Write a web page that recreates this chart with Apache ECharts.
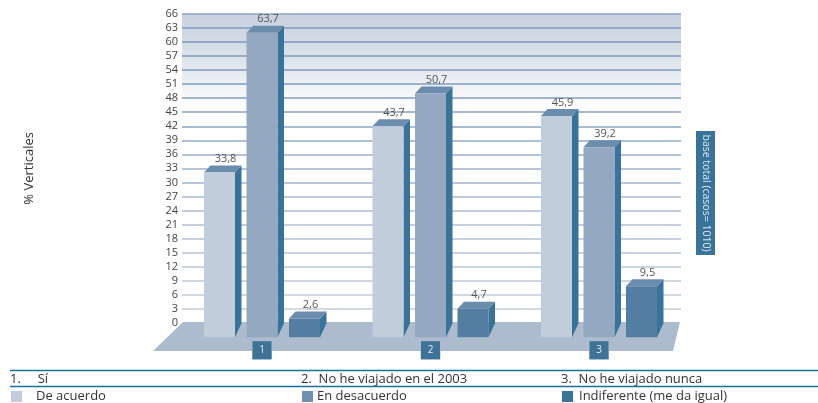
<!DOCTYPE html>
<html><head><meta charset="utf-8">
<style>html,body{margin:0;padding:0;background:#fff}#c{width:818px;height:403px}</style>
<script src="https://cdn.jsdelivr.net/npm/echarts@6/dist/echarts.min.js"></script>
</head><body><div id="c"></div>
<script>
const categories = ['1', '2', '3'];
const categoryNames = ['1.     Sí', '2.  No he viajado en el 2003', '3.  No he viajado nunca'];
const deAcuerdo = [33.8, 43.7, 45.9];
const enDesacuerdo = [63.7, 50.7, 39.2];
const indiferente = [2.6, 4.7, 9.5];
const seriesNames = ['De acuerdo', 'En desacuerdo', 'Indiferente (me da igual)'];
const frontColors = ['#c2cddb', '#94a8c1', '#537da1'];
const lineColors = ['rgba(0,0,0,0)','#c3cedb','#c0ccda','#bdcad9','#b9c7d8','#b5c4d7','#b3c2d6','#b0c0d5','#acbdd3','#a8bad1','#a3b6cf','#9eb2cc','#98aeca','#92aac8','#8ca6c6','#87a2c4','#829ec2','#7f9cc1','#7d9ac0','#7c99bf','#7c99bf','#7c99bf','#8aa4c4'];
const font = '"Open Sans", sans-serif';
const chart = echarts.init(document.getElementById('c'));
const offsets = [-58, -15.5, 27], barW = 31, dx = 6.5, dy = 7;

function renderBar(si) {
  return function (params, api) {
    const v = api.value(1);
    const c = api.coord([api.value(0), v]);
    const z = api.coord([api.value(0), 0]);
    const l = c[0] + offsets[si], r = l + barW, t = c[1] + 8, b = z[1] + 14.5;
    return { type: 'group', children: [
      { type: 'polygon', shape: { points: [[r, t], [r + dx, t - dy], [r + dx, b - 14], [r, b]] }, style: { fill: '#3a7399' } },
      { type: 'polygon', shape: { points: [[l, t], [l + dx, t - dy], [r + dx, t - dy], [r, t]] }, style: { fill: '#6a8cad' } },
      { type: 'rect', shape: { x: l, y: t, width: barW, height: b - t }, style: { fill: frontColors[si] } },
      { type: 'text', x: l + barW / 2 + 6, y: t - dy - 1, style: { text: String(v).replace('.', ','), font: '11px ' + font, fill: '#555', align: 'center', verticalAlign: 'bottom' } }
    ] };
  };
}
const mk = (i, vals) => ({
  type: 'custom', name: seriesNames[i], xAxisIndex: 1, yAxisIndex: 1, z: 5,
  itemStyle: { color: i === 2 ? '#3a7399' : (i === 1 ? '#6f90b0' : frontColors[0]) },
  renderItem: renderBar(i),
  data: vals.map((v, k) => [k, v]), encode: { x: 0, y: 1 }
});
const lg = (i, left) => ({
  data: [seriesNames[i]], left, top: 390, icon: 'rect', itemWidth: 11, itemHeight: 11, padding: 0, itemGap: 0,
  selectedMode: false, textStyle: { fontFamily: font, fontSize: 13, color: '#333', padding: [0, 0, 0, i === 2 ? 1 : (i === 0 ? 9 : -1)] }
});
const hline = y => ({ type: 'line', shape: { x1: 10, y1: y, x2: 818, y2: y }, style: { stroke: '#1d6f96', lineWidth: 1.6 } });
const txt = (x, s) => ({ type: 'text', x, y: 379, style: { text: s, font: '13px ' + font, fill: '#333', verticalAlign: 'middle' } });

chart.setOption({
  animation: false,
  grid: [
    { left: 182, width: 499, top: 14, height: 308.7, show: true, borderWidth: 0,
      backgroundColor: new echarts.graphic.LinearGradient(0, 0, 0, 1, [
        { offset: 0, color: '#c6d1de' }, { offset: 0.14, color: '#dbe2ea' }, { offset: 0.29, color: '#fbfcfd' }, { offset: 0.295, color: '#ffffff' }, { offset: 1, color: '#ffffff' }]) },
    { left: 177.75, width: 505.5, top: 14, height: 308.7 }
  ],
  xAxis: [
    { gridIndex: 0, type: 'category', data: categories, show: false },
    { gridIndex: 1, type: 'category', data: categories, z: 20, axisLine: { show: false }, axisTick: { show: false }, splitLine: { show: false },
      axisLabel: { margin: 18.5, color: '#e8eef4', fontFamily: font, fontSize: 10, backgroundColor: '#3e7397', borderColor: '#a9bdd0', borderWidth: 0.5, width: 19, height: 18, lineHeight: 18, align: 'center', verticalAlign: 'top' } }
  ],
  yAxis: [
    { gridIndex: 0, type: 'value', min: 0, max: 66, interval: 3,
      name: '% Verticales', nameLocation: 'middle', nameGap: 146, nameRotate: 90,
      nameTextStyle: { fontFamily: font, fontSize: 13, color: '#333' },
      axisLine: { show: false }, axisTick: { show: false },
      axisLabel: { margin: 4, fontFamily: font, fontSize: 11, color: '#444' },
      splitLine: { show: true, lineStyle: { width: 1.6, color: lineColors } } },
    { gridIndex: 1, type: 'value', min: 0, max: 66, interval: 3, show: false }
  ],
  legend: [lg(0, 11), lg(1, 302), lg(2, 562)],
  graphic: { elements: [
    { type: 'polygon', z: 1, shape: { points: [[183, 322], [680, 322], [673, 351], [153, 351]] }, style: { fill: '#adbbce' } },
    hline(370.5), hline(386.5),
    txt(10, categoryNames[0]), txt(301, categoryNames[1]), txt(561, categoryNames[2]),
    { type: 'rect', z: 3, shape: { x: 696, y: 131, width: 19, height: 124 }, style: { fill: '#3a7399' } },
    { type: 'text', z: 4, x: 705.5, y: 193, rotation: -Math.PI / 2, style: { text: 'base total (casos= 1010)', font: '10.5px ' + font, fill: '#dbe5ee', align: 'center', verticalAlign: 'middle' } }
  ] },
  series: [mk(0, deAcuerdo), mk(1, enDesacuerdo), mk(2, indiferente)]
});
</script></body></html>
